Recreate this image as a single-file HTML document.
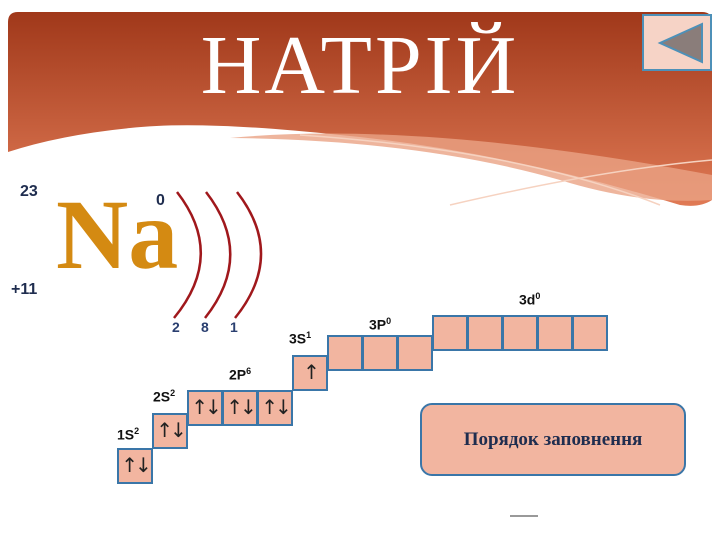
<!DOCTYPE html>
<html><head><meta charset="utf-8"><style>
body{margin:0;width:720px;height:539px;background:#fff;position:relative;overflow:hidden;font-family:"Liberation Sans",sans-serif}
.a{position:absolute}
.lbl{position:absolute;font-weight:bold;color:#1f2d4f;font-size:16px}
.b{position:absolute;box-sizing:border-box;width:36px;height:36px;background:#f2b5a0;border:2px solid #3a76a8;font-size:20px;color:#222;text-align:center;line-height:30px;font-family:"DejaVu Sans",sans-serif;letter-spacing:-3px}
.ol{position:absolute;font-weight:bold;font-size:14px;color:#111}
</style></head><body>
<svg class="a" style="left:0;top:0" width="720" height="539">
<defs><linearGradient id="g" x1="0" y1="0" x2="0" y2="1"><stop offset="0" stop-color="#a0381a"/><stop offset="1" stop-color="#e07a55"/></linearGradient></defs>
<path d="M8,22 Q8,12 18,12 L702,12 Q712,12 712,22 L712,200 Q700,208 680,205 Q500,150 340,135 Q200,120 130,128 Q60,135 8,152 Z" fill="url(#g)"/>
<path d="M230,138 Q420,120 712,175 L712,200 Q640,205 560,180 Q420,140 230,138Z" fill="#eaa384" opacity="0.8"/>
<path d="M300,135 Q520,150 660,205" stroke="#f6d2c0" stroke-width="1.5" fill="none"/>
<path d="M450,205 Q600,170 712,160" stroke="#f6d2c0" stroke-width="1.5" fill="none"/>
<rect x="643" y="15" width="68" height="55" fill="#f6d3c6" stroke="#4d90b8" stroke-width="2"/>
<path d="M702,24 L702,62 L660,43 Z" fill="#8a7d7a" stroke="#4d90b8" stroke-width="2"/>
<path d="M177,192 Q226,255 174,318" stroke="#a0181c" stroke-width="2.5" fill="none"/>
<path d="M206,192 Q255,255 205,318" stroke="#a0181c" stroke-width="2.5" fill="none"/>
<path d="M237,192 Q286,255 235,318" stroke="#a0181c" stroke-width="2.5" fill="none"/>
</svg>
<div class="a" style="left:0;width:720px;top:16px;text-align:center;font-family:'Liberation Serif',serif;font-size:84px;color:#fff;letter-spacing:3px;line-height:100px">НАТРІЙ</div>
<div class="a" style="left:56px;top:180px;font-family:'Liberation Serif',serif;font-weight:bold;font-size:100px;color:#d48a12;line-height:110px">Na</div>
<div class="lbl" style="left:20px;top:183px">23</div>
<div class="lbl" style="left:11px;top:281px">+11</div>
<div class="lbl" style="left:156px;top:192px">0</div>
<div class="lbl" style="left:172px;top:319px;font-size:14px;color:#2a3f70">2</div>
<div class="lbl" style="left:201px;top:319px;font-size:14px;color:#2a3f70">8</div>
<div class="lbl" style="left:230px;top:319px;font-size:14px;color:#2a3f70">1</div>
<div class="b" style="left:117px;top:448px">↑↓</div>
<div class="b" style="left:152px;top:413px">↑↓</div>
<div class="b" style="left:187px;top:390px">↑↓</div>
<div class="b" style="left:222px;top:390px">↑↓</div>
<div class="b" style="left:257px;top:390px">↑↓</div>
<div class="b" style="left:292px;top:355px">↑</div>
<div class="b" style="left:327px;top:335px"></div>
<div class="b" style="left:362px;top:335px"></div>
<div class="b" style="left:397px;top:335px"></div>
<div class="b" style="left:432px;top:315px"></div>
<div class="b" style="left:467px;top:315px"></div>
<div class="b" style="left:502px;top:315px"></div>
<div class="b" style="left:537px;top:315px"></div>
<div class="b" style="left:572px;top:315px"></div>
<div class="ol" style="left:117px;top:426px">1S<sup style="font-size:9px">2</sup></div>
<div class="ol" style="left:153px;top:388px">2S<sup style="font-size:9px">2</sup></div>
<div class="ol" style="left:229px;top:366px">2P<sup style="font-size:9px">6</sup></div>
<div class="ol" style="left:289px;top:330px">3S<sup style="font-size:9px">1</sup></div>
<div class="ol" style="left:369px;top:316px">3P<sup style="font-size:9px">0</sup></div>
<div class="ol" style="left:519px;top:291px">3d<sup style="font-size:9px">0</sup></div>
<div class="a" style="left:420px;top:403px;width:266px;height:73px;box-sizing:border-box;border:2px solid #3a76a8;border-radius:12px;background:#f2b5a0;text-align:center;line-height:69px;font-family:'Liberation Serif',serif;font-weight:bold;font-size:19px;color:#1f2d4f">Порядок заповнення</div>
<div class="a" style="left:510px;top:515px;width:28px;height:2px;background:#999"></div>
</body></html>
